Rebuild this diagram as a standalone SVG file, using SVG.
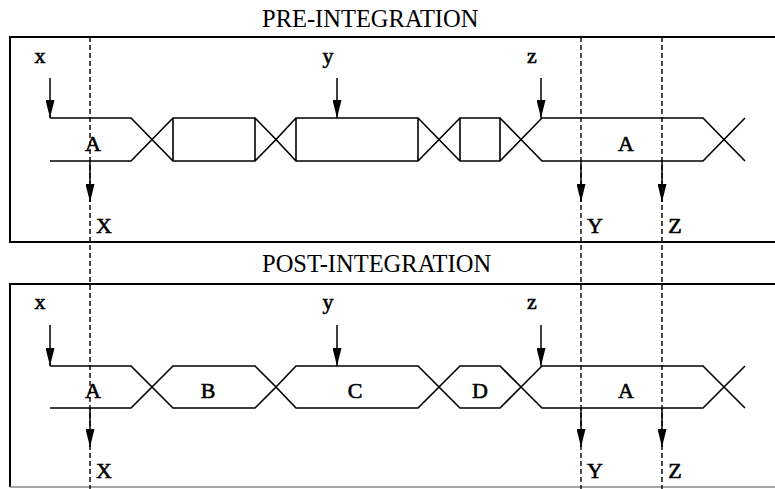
<svg xmlns="http://www.w3.org/2000/svg" width="775" height="489" viewBox="0 0 775 489">
<defs>
<marker id="ah" viewBox="0 0 18 9" refX="18" refY="4.5" markerWidth="18" markerHeight="9" markerUnits="userSpaceOnUse" orient="auto">
<path d="M0,0 L18,4.5 L0,9 Z" fill="#000"/>
</marker>
<style>
.box{fill:none;stroke:#000;stroke-width:2}
.sig{fill:none;stroke:#000;stroke-width:1.6;stroke-linejoin:miter}
.dash{fill:none;stroke:#000;stroke-width:1.4;stroke-dasharray:5,3}
.arr{fill:none;stroke:#000;stroke-width:1.5;marker-end:url(#ah)}
.title{font-family:"Liberation Serif","Times New Roman",serif;font-size:24.5px;fill:#000}
.lbl{font-family:"Liberation Serif","Times New Roman",serif;font-size:22px;fill:#000;stroke:#000;stroke-width:0.6;text-anchor:middle}
</style>
</defs>
<rect width="775" height="489" fill="#fff"/>

<g id="pre-panel">
<text class="title" x="262" y="27">PRE-INTEGRATION</text>
<rect class="box" x="10" y="37" width="775" height="205"/>
</g>
<g id="post-panel">
<text class="title" x="262" y="272">POST-INTEGRATION</text>
<path class="box" d="M785,284 H10 V487"/>
<path d="M10,487 H785" fill="none" stroke="#888" stroke-width="1.5"/>
</g>

<g id="pre-signal">
<g id="pre-A1"><path class="sig" d="M50,118 H131 L152,139.5 L131,161 H50"/><text class="lbl" x="93" y="151">A</text></g>
<g id="pre-seg1"><path class="sig" d="M152,139.5 L173,118 H255 L276,139.5 L255,161 H173 Z M173,118 V161 M255,118 V161"/></g>
<g id="pre-seg2"><path class="sig" d="M276,139.5 L296,118 H418 L439,139.5 L418,161 H296 Z M296,118 V161 M418,118 V161"/></g>
<g id="pre-seg3"><path class="sig" d="M439,139.5 L460,118 H500 L521,139.5 L500,161 H460 Z M460,118 V161 M500,118 V161"/></g>
<g id="pre-A2"><path class="sig" d="M521,139.5 L542,118 H703 L745,161 M521,139.5 L542,161 H703 L745,118"/><text class="lbl" x="626" y="151">A</text></g>
</g>

<g id="post-signal">
<g id="post-A1"><path class="sig" d="M50,366 H131 L152,387 L131,408 H50"/><text class="lbl" x="93" y="398">A</text></g>
<g id="post-B"><path class="sig" d="M152,387 L173,366 H255 L276,387 L255,408 H173 Z"/><text class="lbl" x="208" y="398">B</text></g>
<g id="post-C"><path class="sig" d="M276,387 L296,366 H418 L439,387 L418,408 H296 Z"/><text class="lbl" x="355" y="398">C</text></g>
<g id="post-D"><path class="sig" d="M439,387 L460,366 H500 L521,387 L500,408 H460 Z"/><text class="lbl" x="480" y="398">D</text></g>
<g id="post-A2"><path class="sig" d="M521,387 L542,366 H703 L745,408 M521,387 L542,408 H703 L745,366"/><text class="lbl" x="626" y="398">A</text></g>
</g>

<g id="connectors">
<path class="dash" d="M90,37 V489 M581,37 V489 M662,37 V489"/>
<path class="arr" d="M50,78 V118"/>
<path class="arr" d="M337,78 V118"/>
<path class="arr" d="M541,78 V118"/>
<path class="arr" d="M90,161 V202"/>
<path class="arr" d="M581,161 V202"/>
<path class="arr" d="M662,161 V202"/>
<path class="arr" d="M50,325 V366"/>
<path class="arr" d="M337,325 V366"/>
<path class="arr" d="M541,325 V366"/>
<path class="arr" d="M90,408 V447"/>
<path class="arr" d="M581,408 V447"/>
<path class="arr" d="M662,408 V447"/>
</g>

<g id="labels">
<text class="lbl" x="40" y="63">x</text>
<text class="lbl" x="328" y="63">y</text>
<text class="lbl" x="532" y="63">z</text>
<text class="lbl" x="104" y="233">X</text>
<text class="lbl" x="595" y="233">Y</text>
<text class="lbl" x="675" y="233">Z</text>
<text class="lbl" x="40" y="309">x</text>
<text class="lbl" x="328" y="309">y</text>
<text class="lbl" x="532" y="309">z</text>
<text class="lbl" x="104" y="478">X</text>
<text class="lbl" x="595" y="478">Y</text>
<text class="lbl" x="675" y="478">Z</text>
</g>
</svg>
